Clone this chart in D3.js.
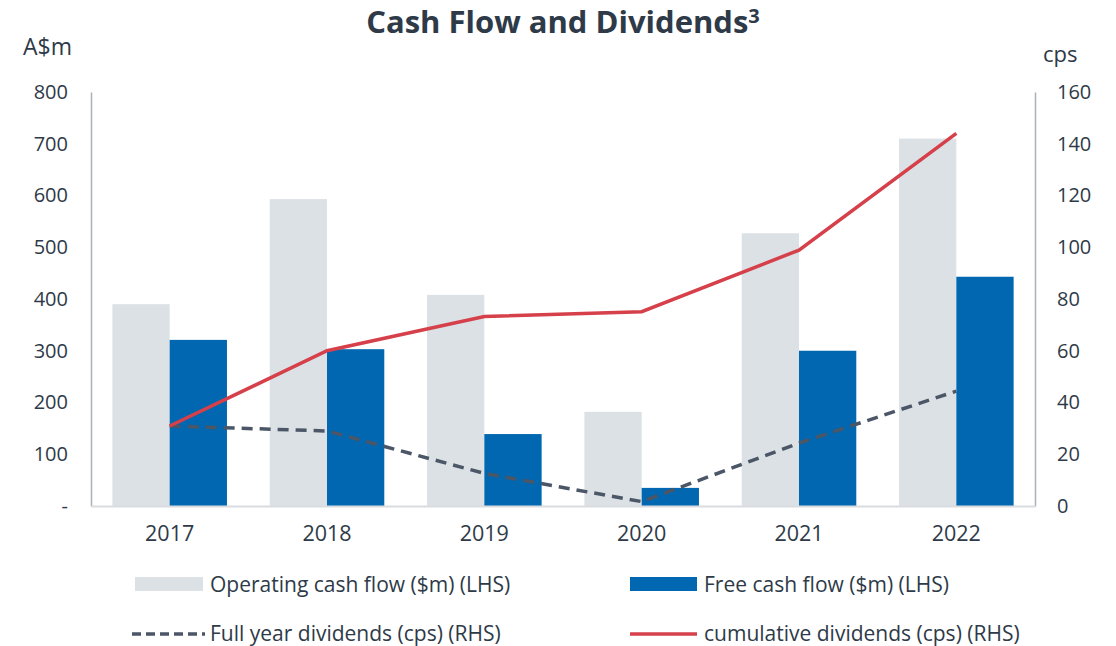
<!DOCTYPE html>
<html>
<head>
<meta charset="utf-8">
<script src="https://cdnjs.cloudflare.com/ajax/libs/d3/7.8.5/d3.min.js"></script>
<style>
    body { margin: 0; background: #fff; }
    svg { font-family: 'Open Sans', sans-serif; }
</style>
</head>
<body>
<div id="chart"></div>
<script>
var years = ['2017', '2018', '2019', '2020', '2021', '2022'];
var operatingCashFlow = [390, 593, 408, 182, 527, 710];
var freeCashFlow = [321, 303, 139, 35, 300, 443];
var fullYearDividends = [30.9, 29.0, 12.6, 1.7, 24.3, 44.4];
var cumulativeDividends = [30.9, 60.0, 73.2, 75.1, 98.9, 144.0];
var leftTicks = [0, 100, 200, 300, 400, 500, 600, 700, 800];
var rightTicks = [0, 20, 40, 60, 80, 100, 120, 140, 160];

var textColor = '#2e3a48';

var svg = d3.select('#chart')
    .append('svg')
    .attr('width', 1116)
    .attr('height', 646);

var plot = {left: 91, right: 1035, top: 92, bottom: 506};

//Scales
var x = d3.scaleBand()
    .domain(years)
    .range([plot.left, plot.right])
    .padding(0);

var x1 = d3.scaleBand()
    .domain(['op', 'free'])
    .range([0, x.bandwidth()])
    .paddingInner(0)
    .paddingOuter(0.373);

var yLeft = d3.scaleLinear()
    .domain([0, 800])
    .range([plot.bottom, plot.top]);

var yRight = d3.scaleLinear()
    .domain([0, 160])
    .range([plot.bottom, plot.top]);

//Title
svg.append('text')
    .attr('x', 563)
    .attr('y', 33)
    .attr('text-anchor', 'middle')
    .style('font-size', '31px')
    .style('font-weight', 700)
    .style('fill', textColor)
    .text('Cash Flow and Dividends')
    .append('tspan')
    .attr('dy', -10)
    .style('font-size', '20px')
    .text('3');

//Axis unit labels
svg.append('text')
    .attr('x', 23)
    .attr('y', 55)
    .style('font-size', '23px')
    .style('fill', textColor)
    .text('A$m');

svg.append('text')
    .attr('x', 1043)
    .attr('y', 62)
    .style('font-size', '22px')
    .style('fill', textColor)
    .text('cps');

//Bars
var groups = svg.selectAll('.year')
    .data(years)
    .enter()
    .append('g')
    .attr('class', 'year')
    .attr('transform', function(d){ return 'translate(' + x(d) + ',0)'; });

groups.append('rect')
    .attr('x', x1('op'))
    .attr('width', x1.bandwidth())
    .attr('y', function(d, i){ return yLeft(operatingCashFlow[i]); })
    .attr('height', function(d, i){ return plot.bottom - yLeft(operatingCashFlow[i]); })
    .style('fill', '#dce1e5');

groups.append('rect')
    .attr('x', x1('free'))
    .attr('width', x1.bandwidth())
    .attr('y', function(d, i){ return yLeft(freeCashFlow[i]); })
    .attr('height', function(d, i){ return plot.bottom - yLeft(freeCashFlow[i]); })
    .style('fill', '#0067b0');

//Axes
var leftAxis = svg.append('g')
    .attr('transform', 'translate(' + plot.left + ',0)')
    .call(d3.axisLeft(yLeft)
        .tickValues(leftTicks)
        .tickSize(0)
        .tickPadding(23)
        .tickFormat(function(d){ return d === 0 ? '-' : d; }));

var rightAxis = svg.append('g')
    .attr('transform', 'translate(' + plot.right + ',0)')
    .call(d3.axisRight(yRight)
        .tickValues(rightTicks)
        .tickSize(0)
        .tickPadding(22));

var bottomAxis = svg.append('g')
    .attr('transform', 'translate(0,' + plot.bottom + ')')
    .call(d3.axisBottom(x)
        .tickSize(0)
        .tickPadding(20));

[leftAxis, rightAxis].forEach(function(a){
    a.selectAll('text')
        .style('font-size', '20px')
        .style('font-family', "'Open Sans', sans-serif")
        .style('fill', textColor);
});
bottomAxis.selectAll('text')
    .style('font-size', '21.5px')
    .style('font-family', "'Open Sans', sans-serif")
    .style('fill', textColor);
leftAxis.select('.domain').attr('stroke', '#a9b0b8').attr('stroke-width', 1.5);
rightAxis.select('.domain').attr('stroke', '#a9b0b8').attr('stroke-width', 1.5);
bottomAxis.select('.domain').attr('stroke', '#d9dce0').attr('stroke-width', 2);

//Lines
var lineGen = d3.line()
    .x(function(d, i){ return x(years[i]) + x.bandwidth() / 2; })
    .y(function(d){ return yRight(d); });

svg.append('path')
    .datum(fullYearDividends)
    .attr('d', lineGen)
    .style('fill', 'none')
    .style('stroke', '#4b5667')
    .style('stroke-width', 3.5)
    .style('stroke-dasharray', '11,7');

svg.append('path')
    .datum(cumulativeDividends)
    .attr('d', lineGen)
    .style('fill', 'none')
    .style('stroke', '#d5404a')
    .style('stroke-width', 3.5);

//Legend
var legend = svg.append('g').style('font-size', '21px').style('fill', textColor);

legend.append('rect')
    .attr('x', 135).attr('y', 577).attr('width', 68).attr('height', 14)
    .style('fill', '#dce1e5');
legend.append('text')
    .attr('x', 210).attr('y', 592)
    .text('Operating cash flow ($m) (LHS)');

legend.append('rect')
    .attr('x', 630).attr('y', 577).attr('width', 67).attr('height', 14)
    .style('fill', '#0067b0');
legend.append('text')
    .attr('x', 704).attr('y', 592)
    .text('Free cash flow ($m) (LHS)');

legend.append('line')
    .attr('x1', 132).attr('x2', 205).attr('y1', 634).attr('y2', 634)
    .style('stroke', '#4b5667')
    .style('stroke-width', 3.5)
    .style('stroke-dasharray', '9,5');
legend.append('text')
    .attr('x', 210).attr('y', 641)
    .text('Full year dividends (cps) (RHS)');

legend.append('line')
    .attr('x1', 630).attr('x2', 697).attr('y1', 634).attr('y2', 634)
    .style('stroke', '#d5404a')
    .style('stroke-width', 3.5);
legend.append('text')
    .attr('x', 704).attr('y', 641)
    .text('cumulative dividends (cps) (RHS)');
</script>
</body>
</html>
